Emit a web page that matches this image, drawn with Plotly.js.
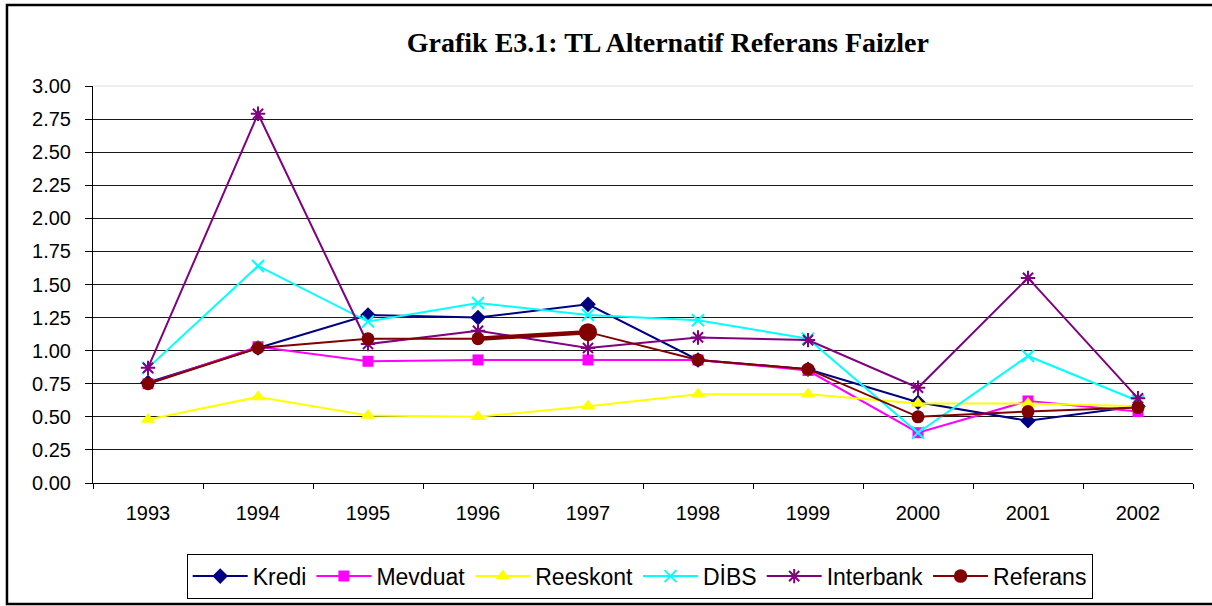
<!DOCTYPE html>
<html>
<head>
<meta charset="utf-8">
<script src="https://cdn.plot.ly/plotly-3.0.1.min.js"></script>
<style>html,body{margin:0;padding:0;background:#fff;}#chart{width:1212px;height:606px;}</style>
</head>
<body>
<div id="chart"></div>
<script>
const years = ['1993','1994','1995','1996','1997','1998','1999','2000','2001','2002'];
const kredi     = [0.76, 1.02, 1.27, 1.25, 1.35, 0.93, 0.86, 0.61, 0.47, 0.58];
const mevduat   = [0.75, 1.03, 0.92, 0.93, 0.93, 0.93, 0.85, 0.38, 0.62, 0.54];
const reeskont  = [0.48, 0.65, 0.51, 0.50, 0.58, 0.67, 0.67, 0.60, 0.60, 0.58];
const dibs      = [0.87, 1.64, 1.22, 1.36, 1.27, 1.23, 1.09, 0.38, 0.96, 0.62];
const interbank = [0.87, 2.79, 1.05, 1.15, 1.02, 1.10, 1.08, 0.72, 1.55, 0.64];
const referans  = [0.75, 1.02, 1.09, 1.09, 1.14, 0.93, 0.86, 0.50, 0.54, 0.57];
const names = ['Kredi','Mevduat','Reeskont','DİBS','Interbank','Referans'];

const traces = [
  {name:names[0], x:years, y:kredi, mode:'lines+markers', line:{color:'#000080', width:2}, marker:{symbol:'diamond', size:12, color:'#000080', opacity:1, line:{width:0}}},
  {name:names[1], x:years, y:mevduat, mode:'lines+markers', line:{color:'#FF00FF', width:2}, marker:{symbol:'square', size:11, color:'#FF00FF', opacity:1, line:{width:0}}},
  {name:names[2], x:years, y:reeskont, mode:'lines+markers', line:{color:'#FFFF00', width:2}, marker:{symbol:'triangle-up', size:13, color:'#FFFF00', opacity:1, line:{width:0}}},
  {name:names[3], x:years, y:dibs, mode:'lines+markers', line:{color:'#00FFFF', width:2}, marker:{symbol:'x-thin-open', size:12, color:'#00FFFF', opacity:1, line:{width:2, color:'#00FFFF'}}},
  {name:names[4], x:years, y:interbank, mode:'lines+markers', line:{color:'#800080', width:2}, marker:{symbol:'asterisk-open', size:12, color:'#800080', opacity:1, line:{width:2, color:'#800080'}}},
  {name:names[5], x:years.slice(3,5), y:referans.slice(3,5), mode:'lines', line:{color:'#800000', width:4.5}, showlegend:false, hoverinfo:'skip'},
  {name:names[5], x:years, y:referans, mode:'lines+markers', line:{color:'#800000', width:2}, marker:{symbol:'circle', size:years.map(y => y==='1997' ? 18 : 13), sizemode:'diameter', color:'#800000', opacity:1, line:{width:0}}}
];

const layout = {
  width:1212, height:606,
  margin:{l:93, r:19, t:86, b:123, autoexpand:false},
  paper_bgcolor:'#fff', plot_bgcolor:'#fff',
  showlegend:true,
  title:{text:'<b>Grafik E3.1: TL Alternatif Referans Faizler</b>', font:{family:'Liberation Serif, Times New Roman, serif', size:28, color:'#000'}, x:0.551, xanchor:'center', y:0.93, yanchor:'middle'},
  font:{family:'Liberation Sans, Arial, sans-serif', size:20, color:'#000'},
  xaxis:{type:'category', range:[-0.5, 9.5], autorange:false, tickson:'boundaries', ticks:'outside', ticklen:5, tickcolor:'#000', showline:true, linecolor:'#000', linewidth:1, showgrid:false, tickfont:{size:20}, ticklabelstandoff:12, fixedrange:true},
  yaxis:{range:[0,3], autorange:false, dtick:0.25, tickformat:'.2f', ticks:'outside', ticklen:7, tickcolor:'#000', showline:true, linecolor:'#000', linewidth:1, gridcolor:'#1a1a1a', gridwidth:1, zeroline:false, tickfont:{size:20}, ticklabelstandoff:10, fixedrange:true},
  legend:{orientation:'h', x:0.497, xanchor:'center', y:-0.178, yanchor:'top', bordercolor:'#000', borderwidth:1, font:{size:23}, itemwidth:55, tracegroupgap:0},
  shapes:[
    {type:'rect', xref:'paper', yref:'paper', x0:-0.0782, x1:1.03, y0:-0.305, y1:1.204, line:{color:'#000', width:2.5}, fillcolor:'rgba(0,0,0,0)', layer:'below'},
    {type:'line', xref:'paper', yref:'paper', x0:0, x1:1, y0:1, y1:1, line:{color:'#ddd', width:1}}
  ]
};

Plotly.newPlot('chart', traces, layout, {displayModeBar:false, staticPlot:true});
</script>
</body>
</html>
